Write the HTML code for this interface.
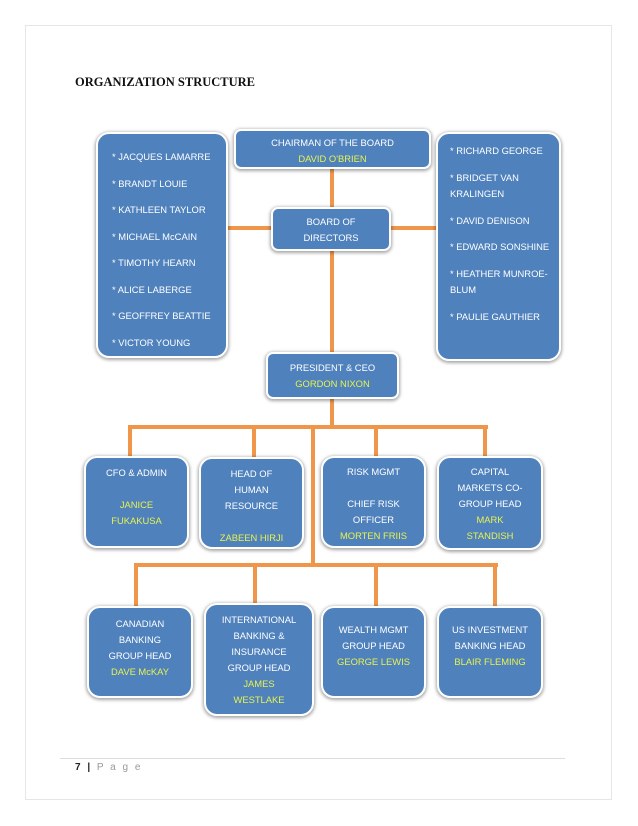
<!DOCTYPE html>
<html><head><meta charset="utf-8"><style>
body{margin:0;width:638px;height:826px;background:#fff;position:relative;overflow:hidden;font-family:"Liberation Sans",sans-serif}
.frame{position:absolute;left:25px;top:25px;width:587px;height:775px;border:1px solid #e6e6e6;box-sizing:border-box}
.t{position:absolute;left:75px;top:75px;font:bold 12.5px "Liberation Serif",serif;color:#111}
.b{position:absolute;background:#4f81bd;border:2px solid #fff;box-shadow:0 1px 3px 1px rgba(0,0,0,.35);border-radius:7px;color:#fff;font-size:9.4px;line-height:16px;text-align:center;box-sizing:border-box}
.r{border-radius:13px}
.y{color:#e8f24e}
.l{position:absolute;background:#f0964a}
.list{text-align:left;padding-left:14px;line-height:26.5px;padding-top:10px}
.list2{text-align:left;padding-left:12px;line-height:16.5px;padding-top:9px}
.list2 div{margin-bottom:10px}
</style></head><body>
<div class="frame"></div>
<div class="t">ORGANIZATION STRUCTURE</div>

<div class="l" style="left:330px;top:168px;width:4px;height:42px"></div>
<div class="l" style="left:330px;top:250px;width:4px;height:105px"></div>
<div class="l" style="left:227px;top:226px;width:46px;height:4px"></div>
<div class="l" style="left:390px;top:226px;width:48px;height:4px"></div>
<div class="l" style="left:330px;top:398px;width:4px;height:30px"></div>
<div class="l" style="left:128px;top:425px;width:360px;height:4px"></div>
<div class="l" style="left:128px;top:425px;width:4px;height:33px"></div>
<div class="l" style="left:252px;top:425px;width:4px;height:33px"></div>
<div class="l" style="left:374px;top:425px;width:4px;height:33px"></div>
<div class="l" style="left:483px;top:425px;width:4px;height:33px"></div>
<div class="l" style="left:311px;top:425px;width:4px;height:142px"></div>
<div class="l" style="left:134px;top:563px;width:364px;height:4px"></div>
<div class="l" style="left:134px;top:563px;width:4px;height:44px"></div>
<div class="l" style="left:253px;top:563px;width:4px;height:42px"></div>
<div class="l" style="left:374px;top:563px;width:4px;height:44px"></div>
<div class="l" style="left:493px;top:563px;width:4px;height:44px"></div>

<div class="b r list" style="left:96px;top:132px;width:132px;height:226px">
<div>* JACQUES LAMARRE</div><div>* BRANDT LOUIE</div><div>* KATHLEEN TAYLOR</div><div>* MICHAEL McCAIN</div><div>* TIMOTHY HEARN</div><div>* ALICE LABERGE</div><div>* GEOFFREY BEATTIE</div><div>* VICTOR YOUNG</div>
</div>
<div class="b r list2" style="left:436px;top:132px;width:125px;height:229px">
<div>* RICHARD GEORGE</div><div>* BRIDGET VAN KRALINGEN</div><div>* DAVID DENISON</div><div>* EDWARD SONSHINE</div><div>* HEATHER MUNROE-BLUM</div><div>* PAULIE GAUTHIER</div>
</div>
<div class="b" style="left:234px;top:129px;width:197px;height:40px;padding-top:4px">CHAIRMAN OF THE BOARD<br><span class="y">DAVID O'BRIEN</span></div>
<div class="b" style="left:271px;top:207px;width:120px;height:44px;padding-top:5px">BOARD OF<br>DIRECTORS</div>
<div class="b" style="left:266px;top:352px;width:133px;height:47px;padding-top:6px">PRESIDENT &amp; CEO<br><span class="y">GORDON NIXON</span></div>

<div class="b r" style="left:84px;top:456px;width:105px;height:92px;padding-top:7px">CFO &amp; ADMIN<br><br><span class="y">JANICE<br>FUKAKUSA</span></div>
<div class="b r" style="left:199px;top:457px;width:105px;height:92px;padding-top:7px">HEAD OF<br>HUMAN<br>RESOURCE<br><br><span class="y">ZABEEN HIRJI</span></div>
<div class="b r" style="left:321px;top:456px;width:105px;height:92px;padding-top:6px">RISK MGMT<br><br>CHIEF RISK<br>OFFICER<br><span class="y">MORTEN FRIIS</span></div>
<div class="b r" style="left:437px;top:456px;width:106px;height:94px;padding-top:6px">CAPITAL<br>MARKETS CO-<br>GROUP HEAD<br><span class="y">MARK<br>STANDISH</span></div>

<div class="b r" style="left:87px;top:606px;width:106px;height:92px;padding-top:8px">CANADIAN<br>BANKING<br>GROUP HEAD<br><span class="y">DAVE McKAY</span></div>
<div class="b r" style="left:204px;top:603px;width:110px;height:113px;padding-top:7px">INTERNATIONAL<br>BANKING &amp;<br>INSURANCE<br>GROUP HEAD<br><span class="y">JAMES<br>WESTLAKE</span></div>
<div class="b r" style="left:321px;top:606px;width:105px;height:92px;padding-top:14px">WEALTH MGMT<br>GROUP HEAD<br><span class="y">GEORGE LEWIS</span></div>
<div class="b r" style="left:437px;top:606px;width:106px;height:92px;padding-top:14px">US INVESTMENT<br>BANKING HEAD<br><span class="y">BLAIR FLEMING</span></div>

<div style="position:absolute;left:60px;top:758px;width:505px;height:1px;background:#ddd"></div>
<div style="position:absolute;left:75px;top:762px;font-size:10px;color:#999;letter-spacing:2px"><b style="color:#222">7 |</b> P a g e</div>
</body></html>
